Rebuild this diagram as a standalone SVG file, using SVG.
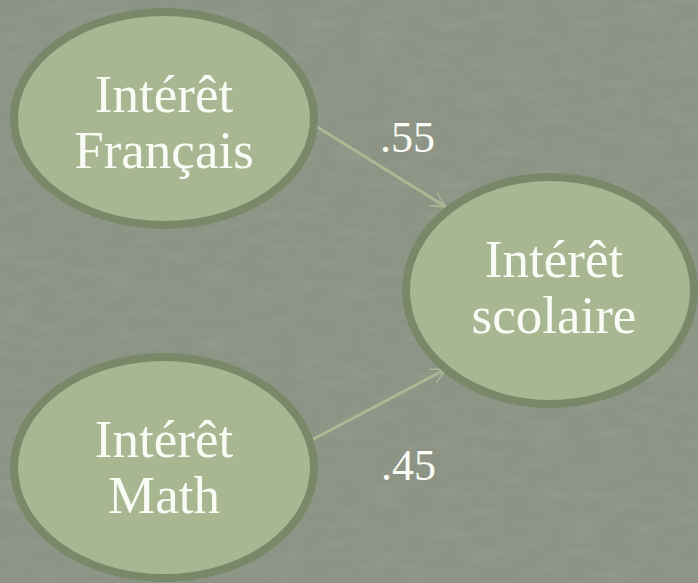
<svg xmlns="http://www.w3.org/2000/svg" width="698" height="583" viewBox="0 0 698 583">
  <defs>
    <style>
      .node ellipse { fill: #a8b792; stroke: #788868; stroke-width: 8; }
      .label { font-family: "Liberation Serif", "Times New Roman", serif; font-size: 53px; fill: #fbfbf6; text-anchor: middle; }
      .coef { font-family: "Liberation Serif", "Times New Roman", serif; font-size: 44px; fill: #fbfbf6; }
      .edge { stroke: #a9b993; stroke-width: 3; fill: none; marker-end: url(#arrow); }
    </style>
    <marker id="arrow" viewBox="0 0 12 12" refX="11" refY="6" markerWidth="6" markerHeight="6" orient="auto" markerUnits="strokeWidth">
      <path d="M1,1 L11,6 L1,11" fill="none" stroke="#a9b993" stroke-width="1"/>
    </marker>
    <filter id="tex" x="0" y="0" width="100%" height="100%">
      <feTurbulence type="fractalNoise" baseFrequency="0.03 0.1" numOctaves="3" seed="4"/>
      <feColorMatrix type="matrix" values="0 0 0 0 0.45  0 0 0 0 0.48  0 0 0 0 0.42  0 0 0 1.2 -0.55"/>
    </filter>
  </defs>
  <rect width="698" height="583" fill="#8d9485"/>
  <rect width="698" height="583" filter="url(#tex)" opacity="0.3"/>
  <g id="connectors">
    <line class="edge" x1="314" y1="125" x2="446" y2="207"/>
    <line class="edge" x1="306" y1="443" x2="446" y2="369"/>
  </g>
  <g id="node-francais" class="node">
    <ellipse cx="164" cy="118.5" rx="150" ry="106.5"/>
    <text class="label" x="164" y="112">Intérêt</text>
    <text class="label" x="164" y="168">Français</text>
  </g>
  <g id="node-math" class="node">
    <ellipse cx="164" cy="467.5" rx="150" ry="110.5"/>
    <text class="label" x="164" y="457">Intérêt</text>
    <text class="label" x="164" y="513">Math</text>
  </g>
  <g id="node-scolaire" class="node">
    <ellipse cx="550" cy="290.5" rx="144" ry="113.5"/>
    <text class="label" x="554" y="277">Intérêt</text>
    <text class="label" x="554" y="333">scolaire</text>
  </g>
  <g id="coefficients">
    <text class="coef" x="380" y="152">.55</text>
    <text class="coef" x="381" y="480">.45</text>
  </g>
</svg>
